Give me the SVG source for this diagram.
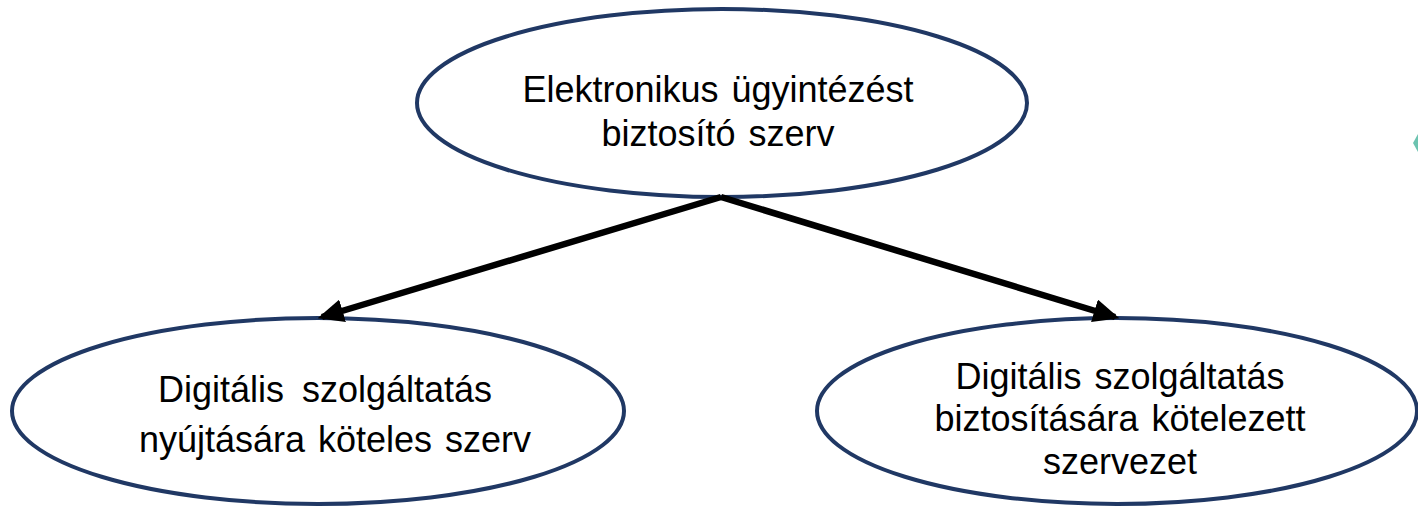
<svg xmlns="http://www.w3.org/2000/svg" width="1418" height="506" viewBox="0 0 1418 506">
<style>
.node ellipse{fill:#fff;stroke:#203864;stroke-width:4}
.node text{font-family:"Liberation Sans",Arial,sans-serif;font-size:36px;fill:#000;text-anchor:middle;word-spacing:3px}
.edge{stroke:#000;stroke-width:6.5;fill:none}
</style>
<defs>
<marker id="ah" markerWidth="4" markerHeight="3.6" refX="3.3" refY="1.8" orient="auto" markerUnits="strokeWidth">
<path d="M0,0 L4,1.8 L0,3.6 z" fill="#000"/>
</marker>
</defs>
<rect width="1418" height="506" fill="#fff"/>
<g id="top" class="node">
<ellipse cx="722" cy="103" rx="305" ry="94"/>
<text x="718" y="102">Elektronikus ügyintézést</text>
<text x="718" y="146">biztosító szerv</text>
</g>
<g id="left" class="node">
<ellipse cx="318" cy="411" rx="306" ry="93"/>
<text x="325" y="402" style="word-spacing:8px">Digitális szolgáltatás</text>
<text x="335" y="452">nyújtására köteles szerv</text>
</g>
<g id="right" class="node">
<ellipse cx="1117" cy="411" rx="300" ry="93"/>
<text x="1120" y="389">Digitális szolgáltatás</text>
<text x="1120" y="431">biztosítására kötelezett</text>
<text x="1120" y="474">szervezet</text>
</g>
<g id="connectors">
<line class="edge" x1="721" y1="197" x2="322" y2="317" marker-end="url(#ah)"/>
<line class="edge" x1="721" y1="197" x2="1115" y2="317" marker-end="url(#ah)"/>
</g>
<polygon points="1418,134 1413,143 1418,152" fill="#6cc3b0"/>
</svg>
